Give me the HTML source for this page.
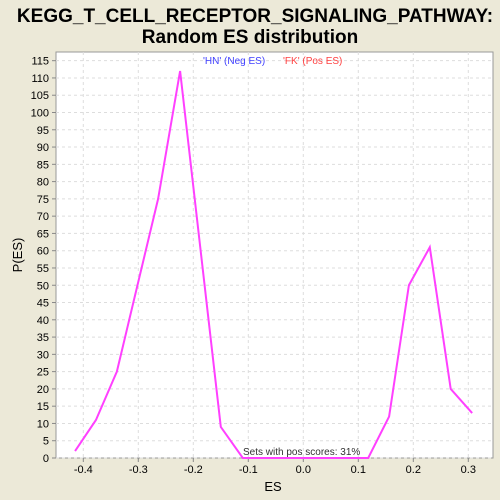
<!DOCTYPE html>
<html><head><meta charset="utf-8"><style>
body{margin:0;background:#ece9d8;}
svg{display:block;font-family:"Liberation Sans",sans-serif;}
</style></head><body>
<svg width="500" height="500" id="c">
<rect x="0" y="0" width="500" height="500" fill="#ece9d8"/>
<text x="255" y="22" text-anchor="middle" font-size="19" font-weight="bold">KEGG_T_CELL_RECEPTOR_SIGNALING_PATHWAY:</text>
<text x="250" y="43" text-anchor="middle" font-size="19" font-weight="bold">Random ES distribution</text>
<rect x="56" y="52" width="437" height="406" fill="#fff" stroke="#999"/>
<g id="grid"></g><g id="axes"></g>
<text x="273" y="491" text-anchor="middle" font-size="13">ES</text>
<text x="22" y="255" text-anchor="middle" font-size="13" transform="rotate(-90 22 255)">P(ES)</text>
<text x="203" y="64" font-size="10" fill="#4040ff">'HN' (Neg ES)</text>
<text x="283" y="64" font-size="10" fill="#ff4040">'FK' (Pos ES)</text>
<text x="243" y="455" font-size="10" fill="#333">Sets with pos scores: 31%</text>
<g id="series"></g>
</svg>
<script>
const esValues=[-0.415,-0.377,-0.339,-0.264,-0.224,-0.150,-0.110,0.118,0.156,0.192,0.230,0.268,0.307];
const probValues=[2,11,25,75,112,9,0,0,12,50,61,20,13];
const xTicks=[-0.4,-0.3,-0.2,-0.1,0.0,0.1,0.2,0.3];
const yTicks=[0,5,10,15,20,25,30,35,40,45,50,55,60,65,70,75,80,85,90,95,100,105,110,115];
const NS="http://www.w3.org/2000/svg";
function xs(v){return 303.3+v*550;}
function ys(v){return 458-v*3.455;}
function mk(t,a,p){const e=document.createElementNS(NS,t);for(const k in a)e.setAttribute(k,a[k]);document.getElementById(p).appendChild(e);return e;}
xTicks.forEach(t=>{
 const g=mk('line',{x1:xs(t),x2:xs(t),y1:52,y2:458,stroke:'#ddd','stroke-dasharray':'3,3'},'grid');
 
 
 mk('line',{x1:xs(t),x2:xs(t),y1:458,y2:462,stroke:'#888'},'axes');
 const l=mk('text',{x:xs(t),y:473,'text-anchor':'middle','font-size':'11'},'axes');
 l.textContent=t.toFixed(1);
 
 
});
yTicks.forEach(t=>{
 const g=mk('line',{x1:56,x2:493,y1:ys(t),y2:ys(t),stroke:'#ddd','stroke-dasharray':'3,3'},'grid');
 
 
 mk('line',{x1:52,x2:56,y1:ys(t),y2:ys(t),stroke:'#888'},'axes');
 const l=mk('text',{x:49,y:ys(t)+4,'text-anchor':'end','font-size':'11'},'axes');
 l.textContent=t;
 
 
});
const pl=mk('polyline',{points:esValues.map((v,i)=>xs(v)+','+ys(probValues[i])).join(' '),fill:'none',stroke:'#ff40ff','stroke-width':2},'series');


</script>
</body></html>
